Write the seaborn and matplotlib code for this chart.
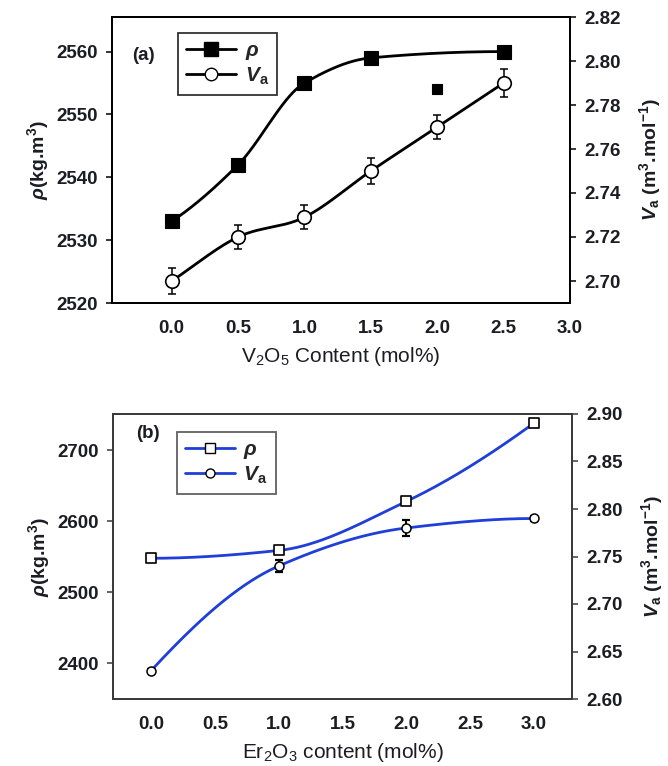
import numpy as np
import pandas as pd
import matplotlib
matplotlib.use("Agg")
import matplotlib.pyplot as plt
from matplotlib.lines import Line2D
import seaborn as sns

# ---------------- data ----------------
# panel (a): V2O5 content
v2o5_x = [0.0, 0.5, 1.0, 1.5, 2.5]
v2o5_rho = [2533, 2542, 2555, 2559, 2560]
v2o5_extra_x = [2.0]
v2o5_extra_rho = [2554]
v2o5_va_x = [0.0, 0.5, 1.0, 1.5, 2.0, 2.5]
v2o5_va = [2.700, 2.720, 2.729, 2.750, 2.770, 2.790]
v2o5_va_err = [0.006, 0.0055, 0.0055, 0.006, 0.0055, 0.0065]

# panel (b): Er2O3 content
er_x = [0.0, 1.0, 2.0, 3.0]
er_rho = [2548, 2559, 2628, 2738]
er_va = [2.630, 2.740, 2.780, 2.790]
er_va_err = [0.002, 0.006, 0.008, 0.003]

xticks_a = [0.0, 0.5, 1.0, 1.5, 2.0, 2.5, 3.0]
yticks_a_left = [2520, 2530, 2540, 2550, 2560]
yticks_a_right = [2.70, 2.72, 2.74, 2.76, 2.78, 2.80, 2.82]
xticks_b = [0.0, 0.5, 1.0, 1.5, 2.0, 2.5, 3.0]
yticks_b_left = [2400, 2500, 2600, 2700]
yticks_b_right = [2.60, 2.65, 2.70, 2.75, 2.80, 2.85, 2.90]


def _hermite(x, y, m, n=200):
    h = np.diff(x)
    xs = np.linspace(x[0], x[-1], n)
    idx = np.clip(np.searchsorted(x, xs) - 1, 0, len(x) - 2)
    t = (xs - x[idx]) / h[idx]
    h00 = 2 * t**3 - 3 * t**2 + 1
    h10 = t**3 - 2 * t**2 + t
    h01 = -2 * t**3 + 3 * t**2
    h11 = t**3 - t**2
    ys = (h00 * y[idx] + h10 * h[idx] * m[idx] + h01 * y[idx + 1]
          + h11 * h[idx] * m[idx + 1])
    return xs, ys


def pchip_curve(x, y, n=200):
    """Smooth monotone cubic curve through the given points (for drawing)."""
    x = np.asarray(x, float)
    y = np.asarray(y, float)
    h = np.diff(x)
    d = np.diff(y) / h
    m = np.zeros_like(y)
    for k in range(1, len(x) - 1):
        if d[k - 1] * d[k] > 0:
            w1 = 2 * h[k] + h[k - 1]
            w2 = h[k] + 2 * h[k - 1]
            m[k] = (w1 + w2) / (w1 / d[k - 1] + w2 / d[k])

    def edge(h0, h1, d0, d1):
        mm = ((2 * h0 + h1) * d0 - h0 * d1) / (h0 + h1)
        if np.sign(mm) != np.sign(d0):
            mm = 0.0
        elif np.sign(d0) != np.sign(d1) and abs(mm) > abs(3 * d0):
            mm = 3 * d0
        return mm

    m[0] = edge(h[0], h[1], d[0], d[1])
    m[-1] = edge(h[-1], h[-2], d[-1], d[-2])
    return _hermite(x, y, m, n)


def catmull_curve(x, y, n=200):
    """Smooth Catmull-Rom style curve through the given points (for drawing)."""
    x = np.asarray(x, float)
    y = np.asarray(y, float)
    m = np.empty_like(y)
    m[1:-1] = (y[2:] - y[:-2]) / (x[2:] - x[:-2])
    m[0] = (y[1] - y[0]) / (x[1] - x[0])
    m[-1] = (y[-1] - y[-2]) / (x[-1] - x[-2])
    return _hermite(x, y, m, n)


sns.set_theme(style="white")
plt.rcParams["font.family"] = ["Liberation Sans", "DejaVu Sans"]
plt.rcParams["mathtext.fontset"] = "custom"
plt.rcParams["mathtext.rm"] = "Liberation Sans"
plt.rcParams["mathtext.it"] = "Liberation Sans:italic"
plt.rcParams["mathtext.bf"] = "Liberation Sans:bold"
plt.rcParams["mathtext.bfit"] = "Liberation Sans:bold:italic"

W, H = 668, 766
fig = plt.figure(figsize=(W / 100, H / 100), dpi=100)
fig.patch.set_facecolor("white")

TICK_FS = 13.5
TXT = "#1c1c24"


def px_axes(l, t, r, b):
    return fig.add_axes([l / W, 1 - b / H, (r - l) / W, (b - t) / H])


def style_axes(ax, color):
    for s in ax.spines.values():
        s.set_color(color)
        s.set_linewidth(1.3)
    ax.tick_params(axis="both", which="major", direction="out", length=4,
                   width=1.1, color=color, labelsize=TICK_FS, labelcolor=TXT,
                   pad=6)
    for lab in ax.get_xticklabels() + ax.get_yticklabels():
        lab.set_fontweight("bold")


rho_lab = r"$\boldsymbol{\rho}$"
va_lab = r"$\boldsymbol{V}_{\mathbf{a}}$"

# ================= panel (a) =================
axa = px_axes(112, 17, 570, 303)
axa2 = axa.twinx()
axa.set_xlim(-0.45, 3.0)
axa.set_ylim(2520, 2565.5)
axa2.set_ylim(2.69, 2.82)

cx, cy = pchip_curve(v2o5_x, v2o5_rho)
sns.lineplot(x=cx, y=cy, ax=axa, color="black", lw=2.0, sort=False)
sns.scatterplot(x=v2o5_x, y=v2o5_rho, ax=axa, marker="s", s=95,
                color="black", edgecolor="black", linewidth=0.8, zorder=5)
sns.scatterplot(x=v2o5_extra_x, y=v2o5_extra_rho, ax=axa, marker="s", s=55,
                color="black", edgecolor="black", linewidth=0.8, zorder=5)

cx, cy = catmull_curve(v2o5_va_x, v2o5_va)
sns.lineplot(x=cx, y=cy, ax=axa2, color="black", lw=2.0, sort=False)
axa2.errorbar(v2o5_va_x, v2o5_va, yerr=v2o5_va_err, fmt="none",
              ecolor="black", elinewidth=1.1, capsize=3.0, capthick=1.1,
              zorder=4)
sns.scatterplot(x=v2o5_va_x, y=v2o5_va, ax=axa2, marker="o", s=95,
                color="white", edgecolor="black", linewidth=1.2, zorder=6)

axa.set_xticks(xticks_a)
axa.set_xticklabels([f"{v:.1f}" for v in xticks_a])
axa.set_yticks(yticks_a_left)
axa.set_yticklabels([str(v) for v in yticks_a_left])
axa2.set_yticks(yticks_a_right)
axa2.set_yticklabels([f"{v:.2f}" for v in yticks_a_right])
style_axes(axa, "black")
style_axes(axa2, "black")
axa.tick_params(axis="x", pad=8)

axa.set_xlabel(r"V$_2$O$_5$ Content (mol%)", fontsize=15, color=TXT,
               labelpad=6)
axa.set_ylabel(r"$\boldsymbol{\rho}$(kg.m$^\mathbf{3}$)", fontsize=14,
               fontweight="bold", color=TXT, labelpad=4)
axa2.set_ylabel(r"$\boldsymbol{V}_{\mathbf{a}}$ (m$^\mathbf{3}$.mol$^\mathbf{-1}$)",
                fontsize=14, fontweight="bold", color=TXT, labelpad=12)

axa.text(0.068, 0.867, "(a)", transform=axa.transAxes, fontsize=13.5,
         fontweight="bold", color=TXT, ha="center", va="center")

handles_a = [
    Line2D([0], [0], color="black", lw=2.0, marker="s", markersize=9.5,
           markerfacecolor="black", markeredgecolor="black"),
    Line2D([0], [0], color="black", lw=2.0, marker="o", markersize=9,
           markerfacecolor="white", markeredgecolor="black"),
]
leg = axa.legend(handles_a, [rho_lab, va_lab], loc="upper left",
                 bbox_to_anchor=(0.144, 0.944), borderaxespad=0,
                 frameon=True, fancybox=False, fontsize=15,
                 handlelength=2.4, handletextpad=0.4, labelspacing=0.15,
                 borderpad=0.4)
leg.get_frame().set_edgecolor("black")
leg.get_frame().set_linewidth(1.3)
leg.set_zorder(10)

# ================= panel (b) =================
BLUE = "#1f3fd8"
GREY = "#3a3a3a"
axb = px_axes(113, 414, 572, 699)
axb2 = axb.twinx()
axb.set_xlim(-0.3, 3.3)
axb.set_ylim(2350, 2751)
axb2.set_ylim(2.60, 2.90)

cx, cy = pchip_curve(er_x, er_rho)
sns.lineplot(x=cx, y=cy, ax=axb, color=BLUE, lw=2.0, sort=False)
sns.scatterplot(x=er_x, y=er_rho, ax=axb, marker="s", s=60, color="white",
                edgecolor="black", linewidth=1.2, zorder=5)

cx, cy = pchip_curve(er_x, er_va)
sns.lineplot(x=cx, y=cy, ax=axb2, color=BLUE, lw=2.0, sort=False)
axb2.errorbar(er_x, er_va, yerr=er_va_err, fmt="none", ecolor="black",
              elinewidth=1.4, capsize=3.0, capthick=1.6, zorder=4)
sns.scatterplot(x=er_x, y=er_va, ax=axb2, marker="o", s=42, color="white",
                edgecolor="black", linewidth=1.1, zorder=6)

axb.set_xticks(xticks_b)
axb.set_xticklabels([f"{v:.1f}" for v in xticks_b])
axb.set_yticks(yticks_b_left)
axb.set_yticklabels([str(v) for v in yticks_b_left])
axb2.set_yticks(yticks_b_right)
axb2.set_yticklabels([f"{v:.2f}" for v in yticks_b_right])
style_axes(axb, GREY)
style_axes(axb2, GREY)
axb.tick_params(axis="x", pad=8)

axb.set_xlabel(r"Er$_2$O$_3$ content (mol%)", fontsize=15, color=TXT,
               labelpad=6)
axb.set_ylabel(r"$\boldsymbol{\rho}$(kg.m$^\mathbf{3}$)", fontsize=14,
               fontweight="bold", color=TXT, labelpad=4)
axb2.set_ylabel(r"$\boldsymbol{V}_{\mathbf{a}}$ (m$^\mathbf{3}$.mol$^\mathbf{-1}$)",
                fontsize=14, fontweight="bold", color=TXT, labelpad=12)

axb.text(0.076, 0.933, "(b)", transform=axb.transAxes, fontsize=13.5,
         fontweight="bold", color=TXT, ha="center", va="center")

handles_b = [
    Line2D([0], [0], color=BLUE, lw=2.0, marker="s", markersize=7,
           markerfacecolor="white", markeredgecolor="black"),
    Line2D([0], [0], color=BLUE, lw=2.0, marker="o", markersize=6.5,
           markerfacecolor="white", markeredgecolor="black"),
]
leg = axb.legend(handles_b, [rho_lab, va_lab], loc="upper left",
                 bbox_to_anchor=(0.139, 0.937), borderaxespad=0,
                 frameon=True, fancybox=False, fontsize=15,
                 handlelength=2.4, handletextpad=0.4, labelspacing=0.15,
                 borderpad=0.4)
leg.get_frame().set_edgecolor(GREY)
leg.get_frame().set_linewidth(1.3)
leg.set_zorder(10)

fig.savefig("out.png", dpi=100, facecolor="white")
